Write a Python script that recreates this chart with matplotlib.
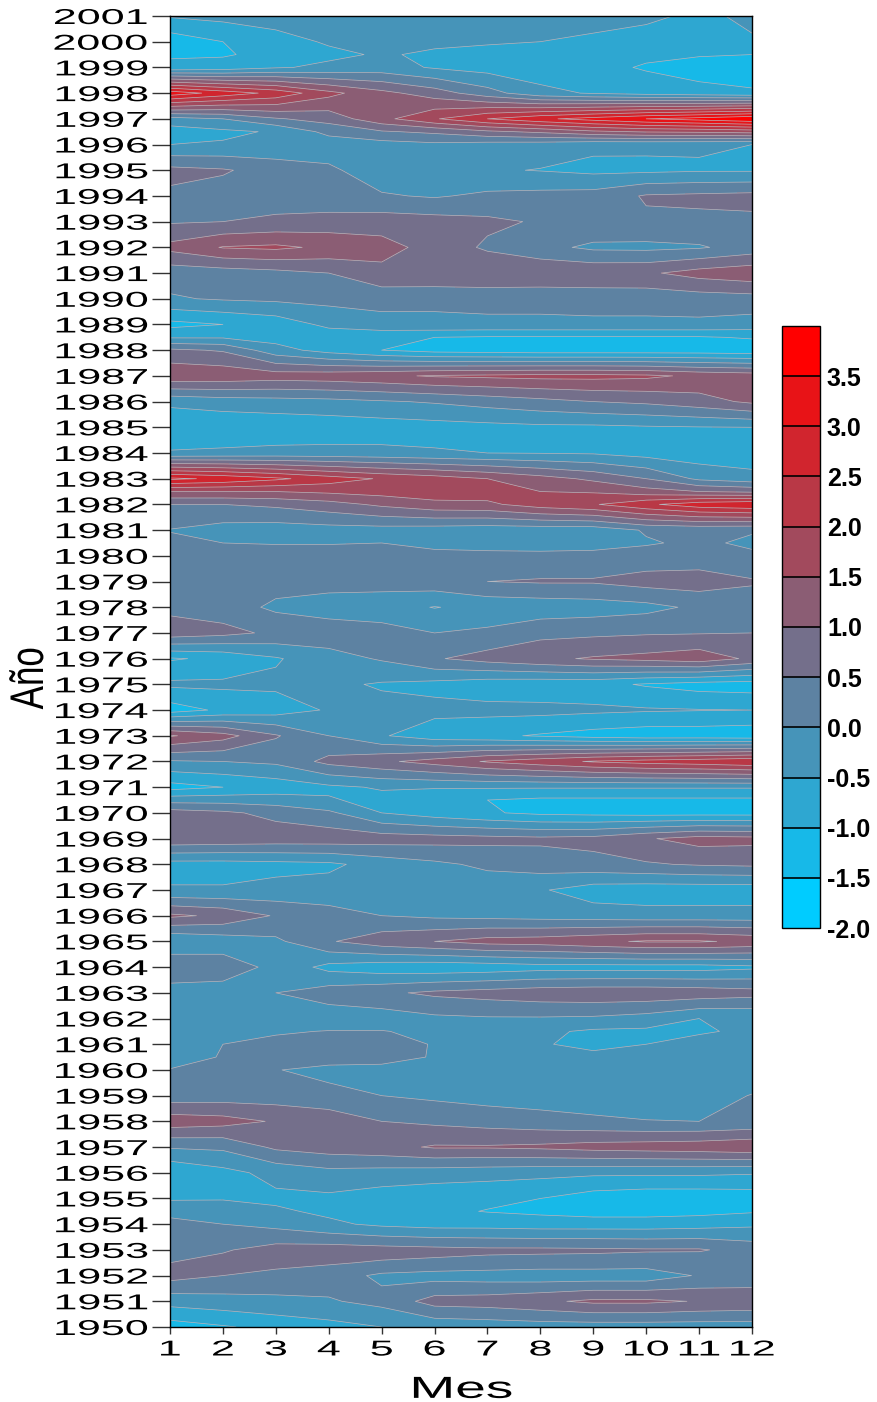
import numpy as np
import matplotlib
matplotlib.use('Agg')
import matplotlib.pyplot as plt
from matplotlib.colors import LinearSegmentedColormap
from matplotlib.patheffects import AbstractPathEffect
from matplotlib.transforms import Affine2D

months = [1, 2, 3, 4, 5, 6, 7, 8, 9, 10, 11, 12]
year_ticks = list(range(1950, 2002))
# una fila por año, mas medios años donde el mapa cambia entre dos años
half_rows = [1952.5, 1954.5, 1960.5, 1961.5, 1970.5, 1980.5, 1982.5, 1988.5, 1996.5, 1999.5]
rows = sorted(year_ticks + half_rows)

anom = [
    [-1.25, -1.05, -.85, -.67, -.5, -.36, -.3, -.25, -.25, -.25, -.25, -.24],  # 1950
    [-.3, -.2, -.1, -.05, .15, .7, .75, .9, 1.1, 1.1, .97, .9],
    [.7, .5, .3, .25, -.1, -.2, -.25, -.3, -.3, -.3, .05, .15],
    [.5, .65, .7, .55, .45, .4, .35, .3, .3, .25, .2, .1],  # 1952.5
    [.3, .45, .7, .75, .7, .65, .6, .6, .58, .55, .55, .3],
    [.2, 0, -.15, -.4, -.6, -.7, -.7, -.75, -.75, -.75, -.7, -.6],
    [-.2, -.35, -.42, -.6, -.75, -.9, -1.02, -1.1, -1.2, -1.2, -1.15, -1.05],  # 1954.5
    [-.55, -.52, -.6, -.6, -.75, -.85, -.9, -1.0, -1.25, -1.35, -1.35, -1.3],  # 1955
    [-.95, -.65, -.35, -.15, -.2, -.25, -.3, -.35, -.4, -.4, -.4, -.45],
    [.05, .1, .6, .75, .85, 1.05, 1.05, 1.1, 1.2, 1.25, 1.3, 1.4],
    [1.3, 1.2, .95, .8, .5, .4, .3, .2, .1, .02, 0, .1],
    [.2, .25, .25, .15, 0, -.1, -.2, -.25, -.3, -.3, -.2, .02],
    [.02, .08, .02, -.15, -.2, -.3, -.3, -.3, -.3, -.3, -.3, -.3],  # 1960
    [-.2, .03, .15, .25, .25, -.05, -.2, -.3, -.35, -.35, -.35, -.35],  # 1960.5
    [-.3, 0, .12, .2, .2, -.03, -.15, -.45, -.65, -.5, -.35, -.3],
    [-.3, -.2, -.05, .02, .02, -.1, -.2, -.4, -.58, -.6, -.55, -.42],  # 1961.5
    [-.25, -.25, -.25, -.3, -.25, -.1, -.05, -.05, -.08, -.2, -.5, -.45],
    [-.3, -.25, 0, .25, .4, .6, .7, .8, .85, .85, .8, .7],
    [.5, .3, -.15, -.65, -.8, -.85, -.8, -.7, -.7, -.7, -.7, -.6],
    [-.5, -.3, -.1, .45, .8, 1.0, 1.2, 1.25, 1.4, 1.55, 1.55, 1.4],  # 1965
    [1.1, .9, .45, .2, 0, -.1, -.15, -.2, -.25, -.3, -.3, -.3],
    [-.45, -.45, -.35, -.3, -.25, -.25, -.3, -.45, -.75, -.8, -.8, -.8],
    [-.7, -.7, -.65, -.6, -.3, -.1, .1, .25, .35, .45, .55, .6],
    [.9, .85, .8, .8, .75, .7, .65, .6, .65, .95, 1.2, 1.15],
    [.74, .6, .35, .1, -.5, -.75, -.95, -1.1, -1.15, -1.2, -1.2, -1.2],  # 1970
    [-.2, -.2, -.25, -.45, -.65, -.9, -1.0, -1.1, -1.1, -1.1, -1.1, -1.1],  # 1970.5
    [-1.2, -1.0, -.8, -.6, -.45, -.45, -.45, -.45, -.45, -.45, -.45, -.45],
    [-.05, 0, .1, .65, .9, 1.2, 1.55, 1.8, 2.05, 2.2, 2.3, 2.45],
    [1.55, 1.2, .55, 0, -.45, -.8, -.9, -1.05, -1.2, -1.3, -1.3, -1.35],
    [-1.25, -.9, -.75, -.45, -.35, -.35, -.35, -.35, -.4, -.45, -.48, -.5],
    [-.4, -.4, -.4, -.4, -.55, -.65, -.8, -.85, -.85, -1.05, -1.2, -1.25],  # 1975
    [-1.05, -.9, -.55, -.2, .05, .45, .7, .9, 1.05, 1.15, 1.3, .9],
    [.8, .65, .4, .3, .2, 0, .1, .35, .4, .45, .47, .5],
    [.35, .25, -.1, -.25, -.3, -.52, -.35, -.3, -.25, -.15, .1, .25],
    [.2, .2, .2, .2, .2, .3, .5, .55, .55, .7, .75, .55],
    [.15, .15, .15, .15, .15, .1, .1, .1, .15, .2, .2, .1],  # 1980
    [.1, 0, -.02, -.02, 0, -.1, -.15, -.18, -.2, -.05, .1, -.1],  # 1980.5
    [-.02, -.2, -.25, -.2, -.2, -.25, -.3, -.3, -.3, .05, .1, .05],
    [.5, .5, .6, .8, 1.1, 1.35, 1.4, 1.75, 1.95, 2.4, 2.8, 2.95],
    [1.5, 1.5, 1.5, 1.6, 1.7, 1.8, 1.75, 1.5, 1.45, 1.2, 1.0, .9],  # 1982.5
    [3.1, 2.9, 2.6, 2.25, 1.95, 1.75, 1.5, 1.2, .9, .5, -.1, -.3],
    [-.45, -.4, -.35, -.35, -.38, -.45, -.5, -.52, -.55, -.7, -.8, -.85],
    [-.9, -.9, -.85, -.8, -.75, -.7, -.65, -.6, -.6, -.55, -.52, -.5],  # 1985
    [-.38, -.25, -.2, -.15, -.05, .05, .2, .35, .5, .6, .8, 1.1],
    [1.4, 1.35, 1.25, 1.3, 1.4, 1.55, 1.6, 1.65, 1.65, 1.6, 1.4, 1.3],
    [.6, .45, -.3, -.7, -1.0, -1.2, -1.25, -1.3, -1.3, -1.3, -1.3, -1.35],
    [-.55, -.55, -.7, -.8, -.85, -1.0, -1.05, -1.05, -1.05, -1.05, -1.05, -.95],  # 1988.5
    [-1.15, -1.0, -.8, -.38, -.2, -.1, -.1, -.1, -.1, -.1, -.1, -.2],
    [-.05, .05, .1, .15, .2, .1, .15, .15, .2, .2, .25, .3],  # 1990
    [.2, .25, .35, .5, .85, .95, .95, .92, .9, .92, 1.2, 1.35],
    [1.15, 1.53, 1.6, 1.4, 1.2, .8, .42, .15, -.1, -.12, -.05, .2],
    [.45, .5, .6, .7, .75, .7, .6, .45, .4, .42, .4, .4],
    [.4, .3, .25, .15, .05, -.05, .1, .15, .2, .55, .6, .65],
    [.65, .55, .3, .1, -.3, -.35, -.45, -.52, -.62, -.6, -.55, -.55],  # 1995
    [-.5, -.45, -.4, -.3, -.2, -.1, -.2, -.25, -.4, -.42, -.45, -.5],
    [-.75, -.6, -.45, .15, .45, .6, .9, 1.1, 1.4, 1.55, 1.6, 1.7],  # 1996.5
    [-.2, 0, .45, .7, 1.35, 1.95, 2.5, 2.9, 3.2, 3.5, 3.7, 3.95],
    [3.3, 2.8, 2.35, 1.65, 1.15, .75, .2, -.35, -.55, -.7, -.8, -.9],
    [-.9, -.8, -.55, -.4, -.3, -.55, -.7, -.8, -.85, -1.05, -1.25, -1.4],
    [-1.05, -1.05, -.85, -.6, -.45, -.58, -.65, -.7, -.8, -.9, -.95, -1.0],  # 1999.5
    [-1.3, -1.0, -.67, -.45, -.35, -.4, -.45, -.5, -.6, -.7, -.8, -.55],  # 2000
    [-.45, -.35, -.3, -.25, -.2, -.2, -.2, -.25, -.3, -.4, -.6, -.4],
]
levels = [-2, -1.5, -1, -.5, 0, .5, 1, 1.5, 2, 2.5, 3, 3.5, 4]
bar_ticks = levels[:-1]


class Stretch(AbstractPathEffect):
    # estira el texto como en el grafico original, sin dejar de ser texto
    def __init__(self, sx=1.0, sy=1.0, anchor='right', dy=0):
        super().__init__()
        self.sx, self.sy, self.anchor, self.dy = sx, sy, anchor, dy

    def draw_path(self, renderer, gc, tpath, affine, rgbFace=None):
        box = tpath.get_extents(affine)
        x0 = box.x1 if self.anchor == 'right' else (box.x0 + box.x1) / 2
        y0 = (box.y0 + box.y1) / 2
        extra = Affine2D().translate(-x0, -y0).scale(self.sx, self.sy).translate(x0, y0 + self.dy)
        renderer.draw_path(gc, tpath, affine + extra, rgbFace)


W, H = 877, 1402
plt.rcParams['font.family'] = ['Liberation Sans', 'DejaVu Sans']
fig = plt.figure(figsize=(W / 100, H / 100), dpi=100)
ax = fig.add_axes([170 / W, 1 - 1327 / H, 582 / W, 1311 / H])

cmap = LinearSegmentedColormap.from_list('azul_rojo', ['#00CCFF', '#FF0000'], N=12)
cs = ax.contourf(months, rows, anom, levels=levels, cmap=cmap)
ax.contour(months, rows, anom, levels=levels, colors='#b4b8c0', linewidths=0.5, linestyles='solid')

ax.set_xlim(1, 12)
ax.set_ylim(1950, 2001)
ax.set_xticks(months)
ax.set_yticks(year_ticks)
ax.tick_params(axis='y', length=13, width=1, color='#333333', pad=3, labelsize=15.5)
ax.tick_params(axis='x', length=5, width=1, color='#333333', pad=4, labelsize=15.5)
for lab in ax.get_yticklabels():
    lab.set_path_effects([Stretch(sx=2.0, anchor='right')])
for lab in ax.get_xticklabels():
    lab.set_path_effects([Stretch(sx=2.0, anchor='center')])
for sp in ax.spines.values():
    sp.set_linewidth(1)

fig.text(462 / W, 1 - 1385 / H, 'Mes', ha='center', va='center', fontsize=18,
         path_effects=[Stretch(sx=2.2, sy=1.22, anchor='center', dy=-4)])
fig.text(31 / W, 1 - 678 / H, 'Año', ha='center', va='center', rotation=90, fontsize=34,
         path_effects=[Stretch(sx=1.0, sy=0.74, anchor='center')])

cax = fig.add_axes([782 / W, 1 - 928 / H, 38 / W, 602 / H])
cb = fig.colorbar(cs, cax=cax, ticks=bar_ticks, drawedges=True)
cb.ax.set_yticklabels(['%.1f' % t for t in bar_ticks], fontsize=18, fontweight='bold')
cb.ax.tick_params(length=0, pad=5)
cb.dividers.set_color('black')
cb.dividers.set_linewidth(1.2)
cb.outline.set_edgecolor('black')
cb.outline.set_linewidth(1)

fig.savefig('out.png', dpi=100)
